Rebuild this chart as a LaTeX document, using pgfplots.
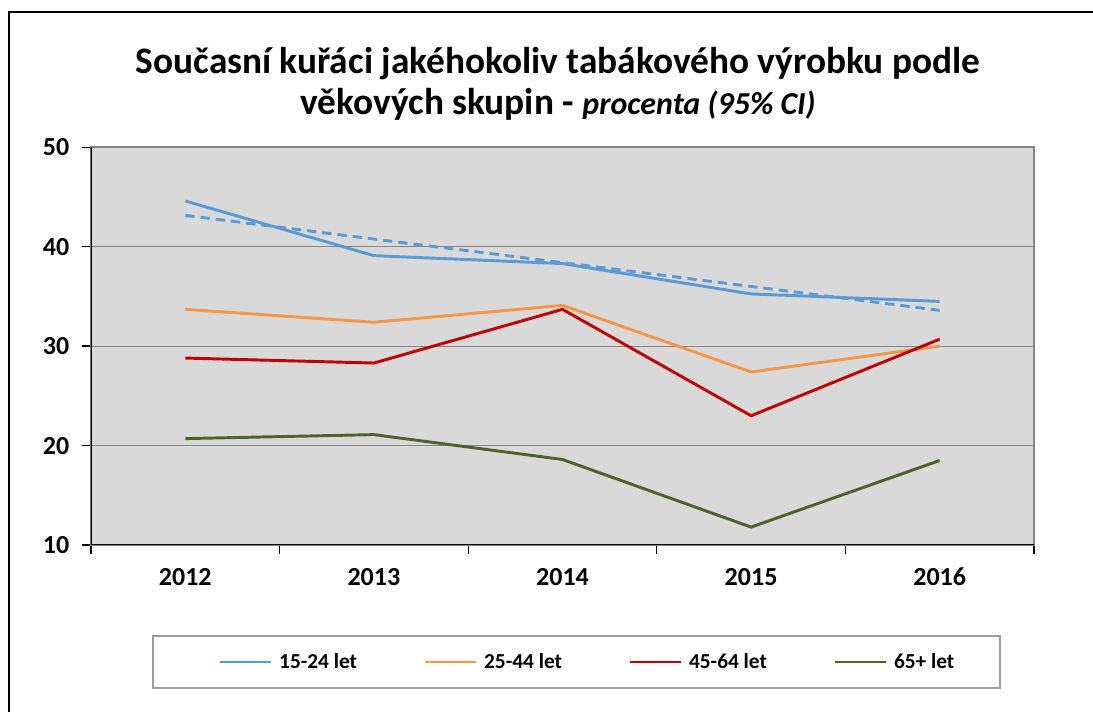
\documentclass[border=0pt]{standalone}
\usepackage{fontspec}
\setmainfont{Carlito}
\usepackage{pgfplots}
\pgfplotsset{compat=1.18}
\definecolor{cBlue}{HTML}{5B9BD5}
\definecolor{cOrange}{HTML}{F79646}
\definecolor{cRed}{HTML}{C00000}
\definecolor{cGreen}{HTML}{4F6228}
\definecolor{plotbg}{HTML}{D9D9D9}
\definecolor{gridc}{HTML}{868686}
\begin{document}
\begin{tikzpicture}
\begin{scope}[x=0.75pt,y=-0.75pt]
\useasboundingbox (0,0) rectangle (1093,712);
\fill[white] (0,0) rectangle (1093,712);
\begin{scope}
\clip (0,0) rectangle (1093,712);
\draw[black, line width=2.2pt] (9,716) -- (9,12) -- (1097,12);
\end{scope}
\node[font=\bfseries\fontsize{28}{34}\selectfont, anchor=base] at (558,74) {Současní kuřáci jakéhokoliv tabákového výrobku podle};
\node[font=\bfseries\fontsize{28}{34}\selectfont, anchor=base] at (558,115) {věkových skupin - {\itshape\fontsize{24}{30}\selectfont procenta (95\% CI)}};
\draw[gridc!80, line width=0.9pt] (153,636) rectangle (1000,688);
\coordinate (axSW) at (91,545);
\end{scope}
\begin{axis}[
  at={(axSW)}, anchor=south west,
  scale only axis, width=707.25pt, height=298.3pt,
  xmin=-0.5, xmax=4.5, ymin=10, ymax=50,
  xtick={-0.5,0.5,1.5,2.5,3.5,4.5},
  xticklabels={},
  extra x ticks={0,1,2,3,4},
  extra x tick labels={2012,2013,2014,2015,2016},
  extra x tick style={major tick length=0pt, grid=none,
    xticklabel style={anchor=north, yshift=-14pt, text height=13pt, text depth=0pt}},
  ytick={10,20,30,40,50},
  tick pos=left,
  tick align=outside,
  major tick length=6.75pt,
  tick style={black, line width=1pt},
  ymajorgrids,
  major grid style={gridc, line width=0.9pt},
  axis line style={gridc, line width=1.5pt},
  axis background/.style={fill=plotbg},
  /pgf/number format/assume math mode=true,
  ticklabel style={font=\bfseries\fontsize{19.5}{22}\selectfont, text=black},
  yticklabel style={xshift=-6pt},
  legend columns=4,
  legend style={at={(0.1347,-0.2942)}, anchor=west, draw=none, fill=none,
    font=\bfseries\fontsize{16}{19}\selectfont, inner sep=0pt,
    nodes={inner sep=0pt}},
  legend image code/.code={\draw[#1, line width=2.2pt] (0pt,0pt) -- (38.5pt,0pt);},
]
\addplot[cBlue, line width=2.2pt, dash pattern=on 7pt off 4.5pt, forget plot] coordinates {(0,43.15) (1,40.77) (2,38.4) (3,36.0) (4,33.6)};
\addplot[cBlue, line width=2.2pt] coordinates {(0,44.6) (1,39.1) (2,38.3) (3,35.25) (4,34.5)};
\addlegendentry{\makebox[113pt][l]{\hspace{5pt}15-24 let}}
\addplot[cOrange, line width=2.2pt] coordinates {(0,33.7) (1,32.4) (2,34.1) (3,27.4) (4,30.0)};
\addlegendentry{\makebox[113pt][l]{\hspace{5pt}25-44 let}}
\addplot[cRed, line width=2.2pt] coordinates {(0,28.8) (1,28.3) (2,33.7) (3,23.0) (4,30.7)};
\addlegendentry{\makebox[113pt][l]{\hspace{5pt}45-64 let}}
\addplot[cGreen, line width=2.2pt] coordinates {(0,20.7) (1,21.1) (2,18.6) (3,11.8) (4,18.5)};
\addlegendentry{\hspace{5pt}65+ let}
\draw[black, line width=1.5pt] (rel axis cs:0,1) -- (rel axis cs:0,0) -- (rel axis cs:1,0);
\end{axis}
\end{tikzpicture}
\end{document}
